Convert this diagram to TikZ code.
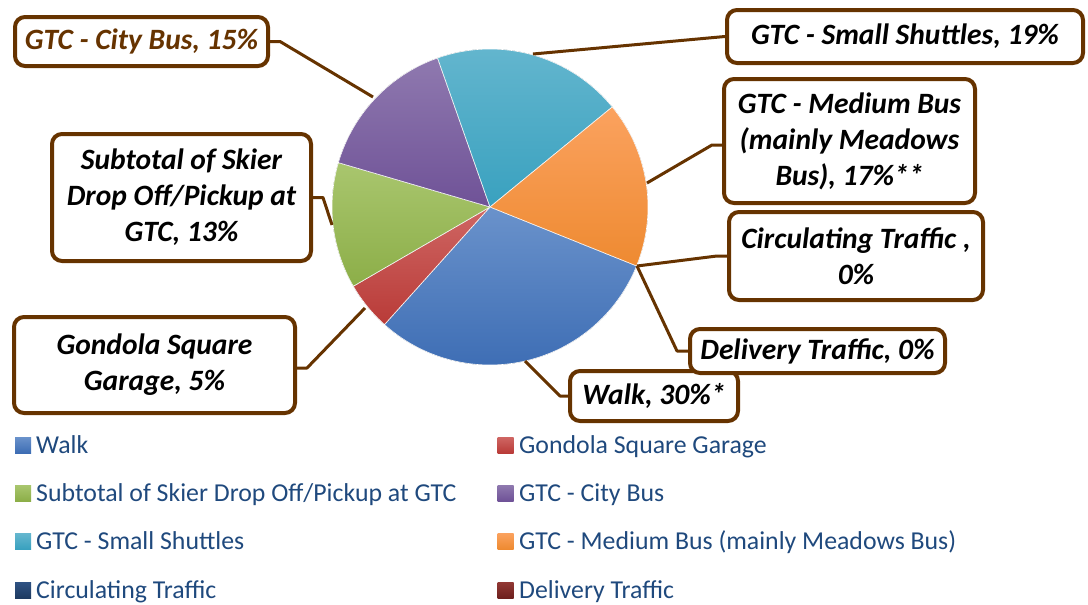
\documentclass[tikz,border=0pt]{standalone}
\usepackage{fontspec}
\setmainfont{Carlito}
\definecolor{brn}{HTML}{663300}
\definecolor{legblue}{HTML}{1F497D}
\definecolor{walkT}{HTML}{6A92CB}\definecolor{walkB}{HTML}{3D6DB4}
\definecolor{gondT}{HTML}{CF6663}\definecolor{gondB}{HTML}{B93B38}
\definecolor{subT}{HTML}{A9C66E}\definecolor{subB}{HTML}{8CAE48}
\definecolor{cityT}{HTML}{8F79AF}\definecolor{cityB}{HTML}{6F5297}
\definecolor{shutT}{HTML}{66B7CF}\definecolor{shutB}{HTML}{39A1BF}
\definecolor{medT}{HTML}{FBA25F}\definecolor{medB}{HTML}{EE8A31}
\definecolor{circT}{HTML}{2F5283}\definecolor{circB}{HTML}{1E3A61}
\definecolor{delT}{HTML}{923834}\definecolor{delB}{HTML}{6E201E}
\begin{document}
\begin{tikzpicture}[x=1pt,y=-1pt,
  lbl/.style={draw=brn, line width=4pt, rounded corners=10pt, fill=white,
    align=center, inner sep=0pt,
    font=\fontsize{29.5}{36}\selectfont\bfseries\itshape},
  lead/.style={draw=brn, line width=3pt, line join=round},
  slice/.style={draw=white, line width=0.6pt},
  legtxt/.style={anchor=base west, text=legblue, inner sep=0pt,
    font=\fontsize{25.8}{30}\selectfont},
  swatch/.style={minimum size=16pt, inner sep=0pt}]
\useasboundingbox (0,0) rectangle (1088,605);

% pie slices, clockwise on the page
\coordinate (pc) at (490,207);
\def\R{158}
\fill[slice, top color=walkT, bottom color=walkB] (pc) -- ++(21.9:\R) arc[start angle=21.9, end angle=131.9, radius=\R] -- cycle;
\fill[slice, top color=gondT, bottom color=gondB] (pc) -- ++(131.9:\R) arc[start angle=131.9, end angle=149.9, radius=\R] -- cycle;
\fill[slice, top color=subT, bottom color=subB] (pc) -- ++(149.9:\R) arc[start angle=149.9, end angle=196.3, radius=\R] -- cycle;
\fill[slice, top color=cityT, bottom color=cityB] (pc) -- ++(196.3:\R) arc[start angle=196.3, end angle=250.6, radius=\R] -- cycle;
\fill[slice, top color=shutT, bottom color=shutB] (pc) -- ++(250.6:\R) arc[start angle=250.6, end angle=320.7, radius=\R] -- cycle;
\fill[slice, top color=medT, bottom color=medB] (pc) -- ++(320.7:\R) arc[start angle=320.7, end angle=381.9, radius=\R] -- cycle;

% leader end points on the pie rim
\coordinate (pCity) at (373,97);
\coordinate (pSub) at (332,225);
\coordinate (pGond) at (365,308);
\coordinate (pShut) at (533,54);
\coordinate (pMed) at (647,183);
\coordinate (pZero) at (637,266);
\coordinate (pWalk) at (525,361);

% data labels
\node[lbl, minimum width=253pt, minimum height=49pt, text=brn] (cb) at (141.5,41.5) {GTC - City Bus, 15\%};
\node[lbl, minimum width=259pt, minimum height=127pt] (st) at (181.5,197.5) {Subtotal of Skier\\Drop Off/Pickup at\\GTC, 13\%};
\node[lbl, minimum width=281pt, minimum height=96pt] (gd) at (154.5,365) {Gondola Square\\Garage, 5\%};
\node[lbl, minimum width=356pt, minimum height=53pt] (ss) at (905,36.5) {GTC - Small Shuttles, 19\%};
\node[lbl, minimum width=251pt, minimum height=124pt] (mb) at (849.5,141) {GTC - Medium Bus\\(mainly Meadows\\Bus), 17\%**};
\node[lbl, minimum width=254pt, minimum height=88pt] (ct) at (856,256) {Circulating Traffic ,\\0\%};
\node[lbl, minimum width=168pt, minimum height=50pt] (wk) at (654,396) {Walk, 30\%*};
\node[lbl, minimum width=255pt, minimum height=44pt] (dt) at (817.5,351) {Delivery Traffic, 0\%};

% leader lines
\draw[lead] (cb.east) -- ++(10,0) -- (pCity);
\draw[lead] (st.east) -- ++(10,0) -- (pSub);
\draw[lead] (gd.east) ++(0,3) -- ++(10,0) -- (pGond);
\draw[lead] (ss.west) -- (pShut);
\draw[lead] (mb.west) ++(0,4) -- ++(-10,0) -- (pMed);
\draw[lead] (ct.west) -- ++(-10,0) -- (pZero);
\draw[lead] (dt.west) -- ++(-11,0) -- (pZero);
\draw[lead] (wk.west) -- ++(-8,0) -- (pWalk);

% legend
\node[swatch, top color=walkT, bottom color=walkB] (s1) at (23,445) {};
\node[legtxt] (l1) at (36,453) {Walk};
\node[swatch, top color=subT, bottom color=subB] (s2) at (23,493) {};
\node[legtxt] (l2) at (36,501) {Subtotal of Skier Drop Off/Pickup at GTC};
\node[swatch, top color=shutT, bottom color=shutB] (s3) at (23,541) {};
\node[legtxt] (l3) at (36,549) {GTC - Small Shuttles};
\node[swatch, top color=circT, bottom color=circB] (s4) at (23,590) {};
\node[legtxt] (l4) at (36,598) {Circulating Traffic};
\node[swatch, top color=gondT, bottom color=gondB] (s5) at (505.5,445) {};
\node[legtxt] (l5) at (519,453) {Gondola Square Garage};
\node[swatch, top color=cityT, bottom color=cityB] (s6) at (505.5,493) {};
\node[legtxt] (l6) at (519,501) {GTC - City Bus};
\node[swatch, top color=medT, bottom color=medB] (s7) at (505.5,541) {};
\node[legtxt] (l7) at (519,549) {GTC - Medium Bus (mainly Meadows Bus)};
\node[swatch, top color=delT, bottom color=delB] (s8) at (505.5,590) {};
\node[legtxt] (l8) at (519,598) {Delivery Traffic};
\end{tikzpicture}
\end{document}
